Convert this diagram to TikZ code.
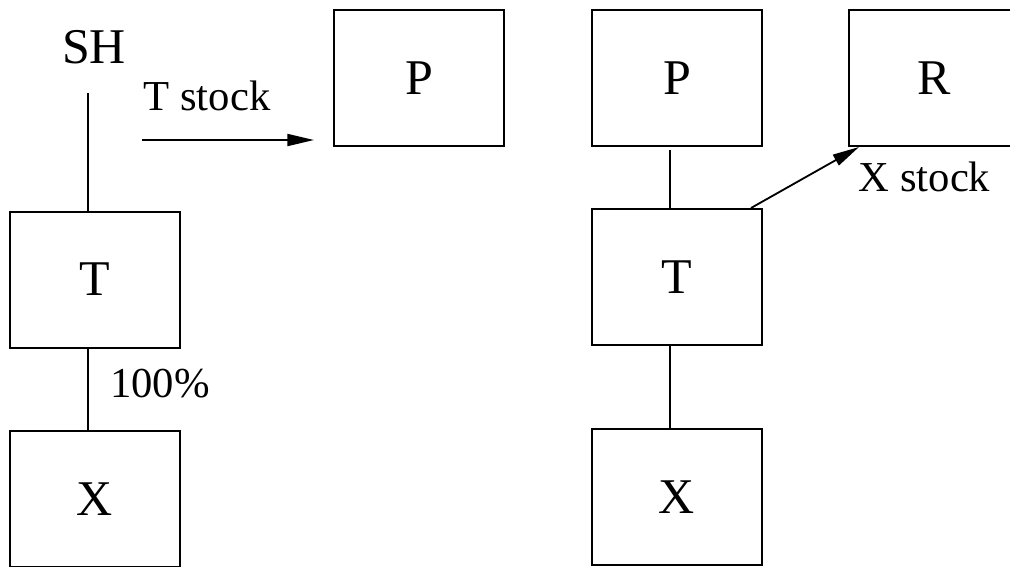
\documentclass[tikz,border=0pt]{standalone}
\usepackage{fontspec}
\setmainfont{Liberation Serif}
\usetikzlibrary{arrows.meta,calc}

\tikzset{
  firm/.style={draw,line width=0.6pt,minimum width=51pt,minimum height=40.8pt,inner sep=0pt,
    font=\fontsize{15}{18}\selectfont},
  tie/.style={line width=0.35pt},
  flow/.style={line width=0.55pt,-{Triangle[length=8pt,width=3.6pt]}},
}

\begin{document}
\begin{tikzpicture}[x=0.3pt,y=-0.3pt,font=\fontsize{12.8}{15}\selectfont]
\clip (0,0) rectangle (1010,566);
% before the swap
\node[font=\fontsize{15}{18}\selectfont] (SH) at (94,47) {SH};
\coordinate (shfoot) at (88,93);
\node[firm] (T1) at (95,279.5) {T};
\node[firm] (X1) at (95,499) {X};
\node[firm] (P1) at (419,78) {P};
\draw[tie] (shfoot) -- (shfoot |- T1.north);
\draw[tie] (T1.south -| shfoot) -- (shfoot |- X1.north);
\node (pct) at (160,384) {100\%};
\coordinate (tsfrom) at (142,140);
\draw[flow,shorten >=5.7pt] (tsfrom) -- (tsfrom -| P1.west);
\node (tstock) at (207,96) {T stock};
% after the swap
\node[firm] (P2) at (677,78) {P};
\node[firm] (R) at (934,78) {R};
\node[firm] (T2) at (677,277) {T};
\node[firm] (X2) at (677,497) {X};
\coordinate (tie2) at (670,150);
\draw[tie] (tie2) -- (tie2 |- T2.north);
\draw[tie] (T2.south -| tie2) -- (tie2 |- X2.north);
\draw[flow] ($(T2.north east)+(-12,0)$) -- ($(R.south west)+(11,0)$);
\node[anchor=west] (xstock) at (847,177) {X stock};
\end{tikzpicture}
\end{document}
